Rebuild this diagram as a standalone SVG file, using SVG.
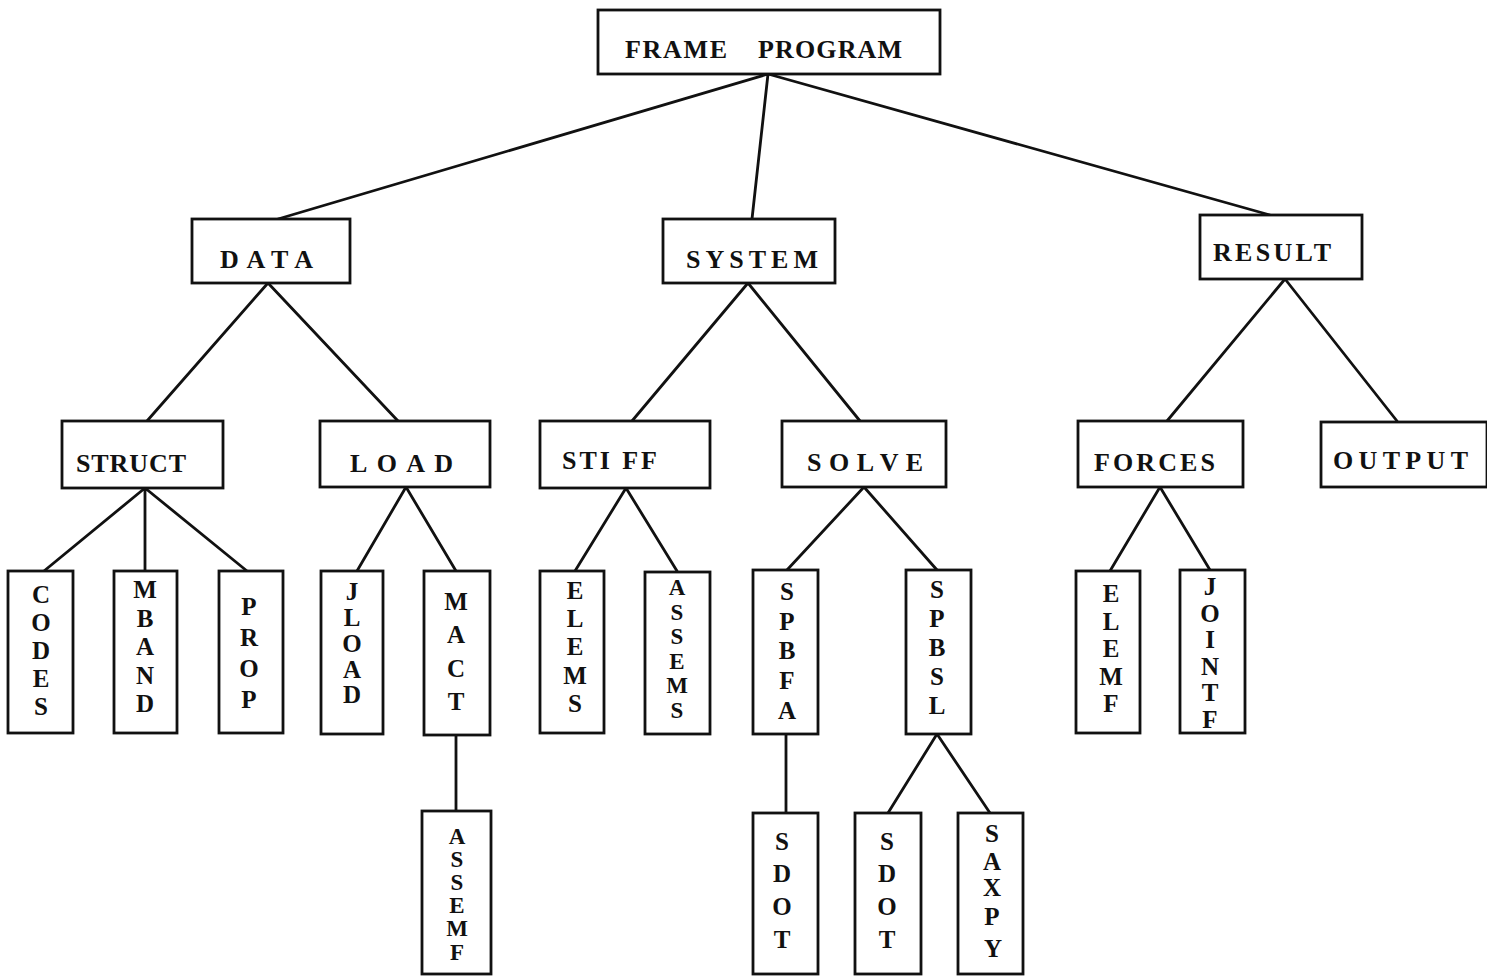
<svg xmlns="http://www.w3.org/2000/svg" width="1487" height="979" viewBox="0 0 1487 979">
<style>
.box{fill:#fff;stroke:#111;stroke-width:2.8}
.ln{stroke:#111;stroke-width:2.8;fill:none;stroke-linecap:round}
text{font-family:"Liberation Serif","DejaVu Serif",serif;font-weight:bold;fill:#111}
.h{font-size:26px}
.v{font-size:25px;text-anchor:middle}
.vs{font-size:23px}
</style>
<rect width="1487" height="979" fill="#fff"/>
<g id="connectors">
<path class="ln" d="M768 74L278 219M768 74L752 219M768 74L1270 215"/>
<path class="ln" d="M268 283L147 421M268 283L398 421"/>
<path class="ln" d="M748 283L632 421M748 283L860 421"/>
<path class="ln" d="M1285 279L1167 421M1285 279L1397 421"/>
<path class="ln" d="M145 488L44 571M145 488L145 571M145 488L247 571"/>
<path class="ln" d="M406 487L357 571M406 487L456 571"/>
<path class="ln" d="M626 488L575 571M626 488L677 571"/>
<path class="ln" d="M864 487L787 570M864 487L937 570"/>
<path class="ln" d="M1160 487L1110 571M1160 487L1210 570"/>
<path class="ln" d="M456 735L456 811"/>
<path class="ln" d="M786 734L786 813"/>
<path class="ln" d="M937 734L888 813M937 734L990 813"/>
</g>
<g id="frame-program"><rect class="box" x="598" y="10" width="342" height="64"/><text class="h" y="58" font-size="25"><tspan x="625" textLength="102">FRAME</tspan><tspan x="758" textLength="144">PROGRAM</tspan></text></g>
<g id="data"><rect class="box" x="192" y="219" width="158" height="64"/><text class="h" x="220" y="268" textLength="93">DATA</text></g>
<g id="system"><rect class="box" x="663" y="219" width="172" height="64"/><text class="h" x="686" y="268" textLength="132">SYSTEM</text></g>
<g id="result"><rect class="box" x="1200" y="215" width="162" height="64"/><text class="h" x="1213" y="261" textLength="118">RESULT</text></g>
<g id="struct"><rect class="box" x="62" y="421" width="161" height="67"/><text class="h" x="76" y="472" textLength="110">STRUCT</text></g>
<g id="load"><rect class="box" x="320" y="421" width="170" height="66"/><text class="h" x="350" y="472" textLength="103">L O A D</text></g>
<g id="stiff"><rect class="box" x="540" y="421" width="170" height="67"/><text class="h" x="562" y="469" textLength="95">STI FF</text></g>
<g id="solve"><rect class="box" x="782" y="421" width="164" height="66"/><text class="h" x="807" y="471" textLength="116">S O L V E</text></g>
<g id="forces"><rect class="box" x="1078" y="421" width="165" height="66"/><text class="h" x="1094" y="471" textLength="121">FORCES</text></g>
<g id="output"><rect class="box" x="1321" y="422" width="166" height="65"/><text class="h" x="1333" y="469" textLength="135">OUTPUT</text></g>
<g id="codes"><rect class="box" x="8" y="571" width="65" height="162"/><text class="v"><tspan x="41" y="603">C</tspan><tspan x="41" y="631">O</tspan><tspan x="41" y="659">D</tspan><tspan x="41" y="687">E</tspan><tspan x="41" y="715">S</tspan></text></g>
<g id="mband"><rect class="box" x="114" y="571" width="63" height="162"/><text class="v"><tspan x="145" y="598">M</tspan><tspan x="145" y="627">B</tspan><tspan x="145" y="655">A</tspan><tspan x="145" y="684">N</tspan><tspan x="145" y="712">D</tspan></text></g>
<g id="prop"><rect class="box" x="219" y="571" width="64" height="162"/><text class="v"><tspan x="249" y="615">P</tspan><tspan x="249" y="646">R</tspan><tspan x="249" y="677">O</tspan><tspan x="249" y="708">P</tspan></text></g>
<g id="jload"><rect class="box" x="321" y="571" width="62" height="163"/><text class="v"><tspan x="352" y="600">J</tspan><tspan x="352" y="626">L</tspan><tspan x="352" y="652">O</tspan><tspan x="352" y="678">A</tspan><tspan x="352" y="703">D</tspan></text></g>
<g id="mact"><rect class="box" x="424" y="571" width="66" height="164"/><text class="v"><tspan x="456" y="610">M</tspan><tspan x="456" y="643">A</tspan><tspan x="456" y="677">C</tspan><tspan x="456" y="710">T</tspan></text></g>
<g id="assemf"><rect class="box" x="422" y="811" width="69" height="163"/><text class="v vs"><tspan x="457" y="844">A</tspan><tspan x="457" y="867">S</tspan><tspan x="457" y="890">S</tspan><tspan x="457" y="913">E</tspan><tspan x="457" y="936">M</tspan><tspan x="457" y="960">F</tspan></text></g>
<g id="elems"><rect class="box" x="540" y="571" width="64" height="162"/><text class="v"><tspan x="575" y="599">E</tspan><tspan x="575" y="627">L</tspan><tspan x="575" y="655">E</tspan><tspan x="575" y="684">M</tspan><tspan x="575" y="712">S</tspan></text></g>
<g id="assems"><rect class="box" x="645" y="572" width="65" height="162"/><text class="v vs"><tspan x="677" y="595">A</tspan><tspan x="677" y="620">S</tspan><tspan x="677" y="644">S</tspan><tspan x="677" y="669">E</tspan><tspan x="677" y="693">M</tspan><tspan x="677" y="718">S</tspan></text></g>
<g id="spbfa"><rect class="box" x="753" y="570" width="65" height="164"/><text class="v"><tspan x="787" y="600">S</tspan><tspan x="787" y="630">P</tspan><tspan x="787" y="659">B</tspan><tspan x="787" y="689">F</tspan><tspan x="787" y="719">A</tspan></text></g>
<g id="spbsl"><rect class="box" x="906" y="570" width="65" height="164"/><text class="v"><tspan x="937" y="598">S</tspan><tspan x="937" y="627">P</tspan><tspan x="937" y="656">B</tspan><tspan x="937" y="685">S</tspan><tspan x="937" y="714">L</tspan></text></g>
<g id="sdot-1"><rect class="box" x="753" y="813" width="65" height="161"/><text class="v"><tspan x="782" y="850">S</tspan><tspan x="782" y="882">D</tspan><tspan x="782" y="915">O</tspan><tspan x="782" y="948">T</tspan></text></g>
<g id="sdot-2"><rect class="box" x="855" y="813" width="66" height="161"/><text class="v"><tspan x="887" y="850">S</tspan><tspan x="887" y="882">D</tspan><tspan x="887" y="915">O</tspan><tspan x="887" y="948">T</tspan></text></g>
<g id="saxpy"><rect class="box" x="958" y="813" width="65" height="161"/><text class="v"><tspan x="992" y="842">S</tspan><tspan x="992" y="870">A</tspan><tspan x="992" y="896">X</tspan><tspan x="992" y="925">P</tspan><tspan x="993" y="957">Y</tspan></text></g>
<g id="elemf"><rect class="box" x="1076" y="571" width="64" height="162"/><text class="v"><tspan x="1111" y="602">E</tspan><tspan x="1111" y="630">L</tspan><tspan x="1111" y="657">E</tspan><tspan x="1111" y="685">M</tspan><tspan x="1111" y="712">F</tspan></text></g>
<g id="jointf"><rect class="box" x="1180" y="570" width="65" height="163"/><text class="v"><tspan x="1210" y="595">J</tspan><tspan x="1210" y="622">O</tspan><tspan x="1210" y="648">I</tspan><tspan x="1210" y="675">N</tspan><tspan x="1210" y="701">T</tspan><tspan x="1210" y="728">F</tspan></text></g>
</svg>
